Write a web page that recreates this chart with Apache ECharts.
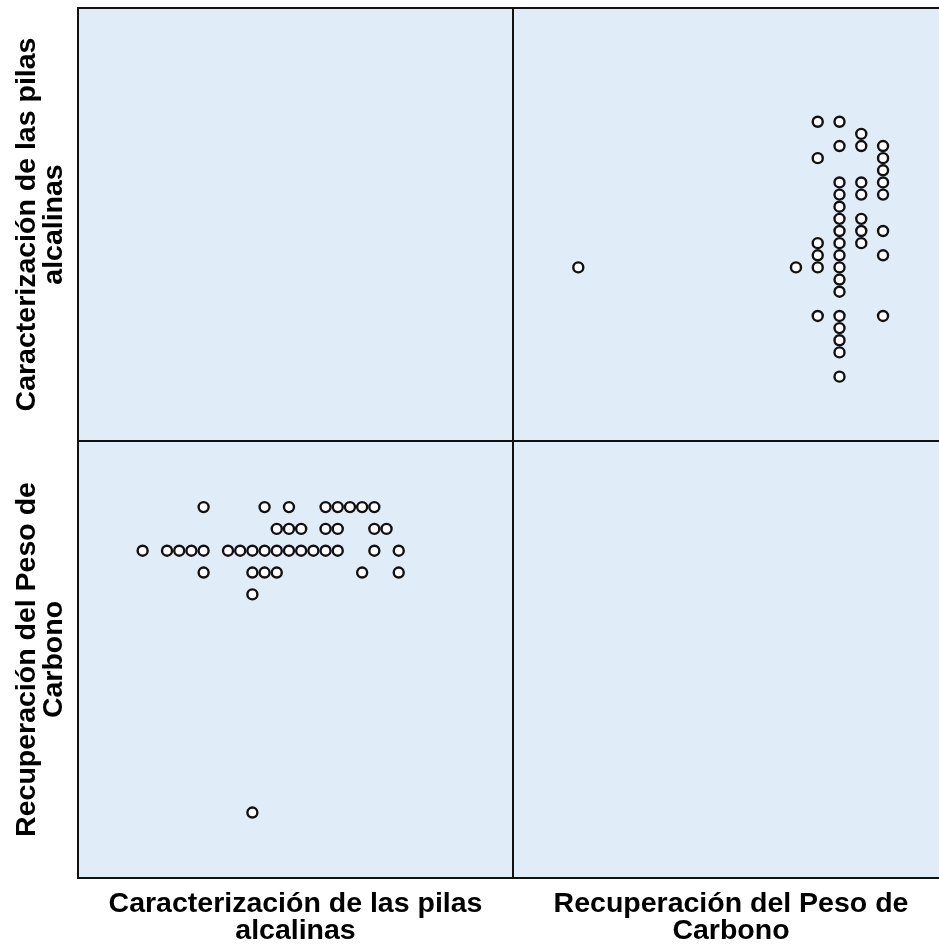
<!DOCTYPE html>
<html>
<head>
<meta charset="utf-8">
<script src="https://cdn.jsdelivr.net/npm/echarts@6/dist/echarts.min.js"></script>
<style>
  html, body { margin: 0; padding: 0; background: #ffffff; }
  #chart { width: 939px; height: 947px; }
</style>
</head>
<body>
<div id="chart"></div>
<script>
// Variable names shown on the matrix rows / columns
const variables = [
  'Caracterización de las pilas\nalcalinas',
  'Recuperación del Peso de\nCarbono'
];

// Paired observations (one entry per case)
const caracterizacion = [
  9,
  9,
  5, 9, 10, 11, 18, 21,
  0, 2, 3, 4, 5, 7, 8, 9, 10, 11, 12, 13, 14, 15, 16, 19, 21,
  11, 12, 13, 15, 16, 19, 20,
  5, 10, 12, 15, 16, 17, 18, 19
];
const recuperacion = [
  0,
  10,
  11, 11, 11, 11, 11, 11,
  12, 12, 12, 12, 12, 12, 12, 12, 12, 12, 12, 12, 12, 12, 12, 12, 12,
  13, 13, 13, 13, 13, 13, 13,
  14, 14, 14, 14, 14, 14, 14, 14
];

// Shared scale extents for each variable
const carRange = [-5.3, 30.37];
const recRange = [-3.0, 17.03];

const panelFill = '#E1ECF9';
const font = 'bold 28.5px "Liberation Sans", Arial, sans-serif';

const chart = echarts.init(document.getElementById('chart'));

const gridBase = {
  show: true,
  backgroundColor: panelFill,
  borderColor: '#111',
  borderWidth: 2,
  outerBoundsMode: 'none',
  containLabel: false
};
const grids = [
  Object.assign({ left: 78, top: 8, width: 435, height: 433 }, gridBase),
  Object.assign({ left: 513, top: 8, width: 436, height: 433 }, gridBase),
  Object.assign({ left: 78, top: 441, width: 435, height: 437 }, gridBase),
  Object.assign({ left: 513, top: 441, width: 436, height: 437 }, gridBase)
];

function hiddenAxis(gridIndex, range) {
  return {
    type: 'value', gridIndex: gridIndex, min: range[0], max: range[1],
    show: false, splitLine: { show: false }
  };
}

// column variable on x, row variable on y
const xAxes = [
  hiddenAxis(0, carRange),
  hiddenAxis(1, recRange),
  hiddenAxis(2, carRange),
  hiddenAxis(3, recRange)
];
const yAxes = [
  hiddenAxis(0, carRange),
  hiddenAxis(1, carRange),
  hiddenAxis(2, recRange),
  hiddenAxis(3, recRange)
];

const markerStyle = {
  type: 'scatter',
  symbol: 'circle',
  symbolSize: 10,
  itemStyle: { color: '#ffffff', borderColor: '#111111', borderWidth: 2.4, opacity: 1 },
  emphasis: { disabled: true },
  silent: true
};

const topRight = caracterizacion.map((c, i) => [recuperacion[i], c]);
const bottomLeft = caracterizacion.map((c, i) => [c, recuperacion[i]]);

const series = [
  Object.assign({ xAxisIndex: 1, yAxisIndex: 1, data: topRight }, markerStyle),
  Object.assign({ xAxisIndex: 2, yAxisIndex: 2, data: bottomLeft }, markerStyle)
];

function textEl(text, x, y, rotation) {
  return {
    type: 'text', x: x, y: y, rotation: rotation, silent: true,
    style: {
      text: text, font: font, fill: '#000', lineHeight: 27,
      align: 'center', verticalAlign: 'middle'
    }
  };
}

const graphic = [
  // column titles
  textEl(variables[0], 295.5, 918, 0),
  textEl(variables[1], 731, 918, 0),
  // row titles
  textEl(variables[0], 41, 224.5, Math.PI / 2),
  textEl(variables[1], 41, 659.5, Math.PI / 2)
];

chart.setOption({
  animation: false,
  grid: grids,
  xAxis: xAxes,
  yAxis: yAxes,
  series: series,
  graphic: graphic
});
</script>
</body>
</html>
